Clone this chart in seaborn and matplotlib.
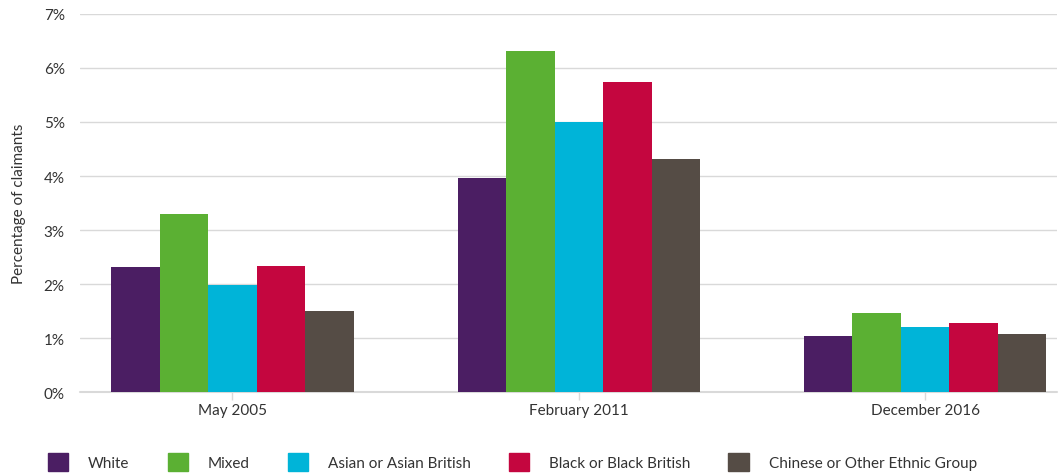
import pandas as pd
import matplotlib.pyplot as plt
import seaborn as sns
from matplotlib.ticker import FuncFormatter

# Data
periods = ['May 2005', 'February 2011', 'December 2016']
groups = ['White', 'Mixed', 'Asian or Asian British', 'Black or Black British',
          'Chinese or Other Ethnic Group']
white = [2.31, 3.96, 1.04]
mixed = [3.30, 6.31, 1.46]
asian = [1.98, 5.00, 1.20]
black = [2.33, 5.74, 1.28]
chinese = [1.50, 4.31, 1.07]
colors = ['#4B1E63', '#5BB033', '#00B4D8', '#C4063F', '#554C45']

df = pd.DataFrame({'period': periods * 5,
                   'group': [g for g in groups for _ in periods],
                   'value': white + mixed + asian + black + chinese})

sns.set_theme(style='white')
plt.rcParams['font.family'] = ['Lato', 'DejaVu Sans']

fig = plt.figure(figsize=(10.59, 4.77), dpi=100)
ax = fig.add_axes([0.0755, 0.176, 0.9225, 0.7926])

sns.barplot(data=df, x='period', y='value', hue='group', order=periods,
            hue_order=groups, palette=colors, saturation=1, width=0.7,
            gap=0, linewidth=0, ax=ax, legend=False)

ax.set_ylim(0, 7)
ax.set_xlim(-0.44, 2.38)
ax.set_yticks(range(0, 8))
ax.yaxis.set_major_formatter(FuncFormatter(lambda v, p: f'{int(v)}%'))
ax.grid(axis='y', color='#d9d9d9', linewidth=1)
ax.axhline(0, color='#d9d9d9', linewidth=1.5, zorder=0.5, clip_on=False)
ax.set_axisbelow(True)
for s in ax.spines.values():
    s.set_visible(False)
ax.tick_params(axis='y', length=0, labelsize=11, labelcolor='#333333', pad=11)
ax.tick_params(axis='x', length=6, width=1, color='#d9d9d9', labelsize=11,
               labelcolor='#333333', pad=2, bottom=True)
ax.set_xlabel('')
ax.set_ylabel('Percentage of claimants', fontsize=11, color='#333333', labelpad=13)

handles = [plt.Rectangle((0, 0), 1, 1, color=c) for c in colors]
fig.legend(handles, groups, loc='center left', bbox_to_anchor=(0.0453, 0.029),
           ncol=5, frameon=False, fontsize=11, handlelength=1.31,
           handleheight=1.44, handletextpad=1.31, columnspacing=2.5,
           borderpad=0, borderaxespad=0, labelcolor='#333333')

fig.savefig('out.png', dpi=100)
